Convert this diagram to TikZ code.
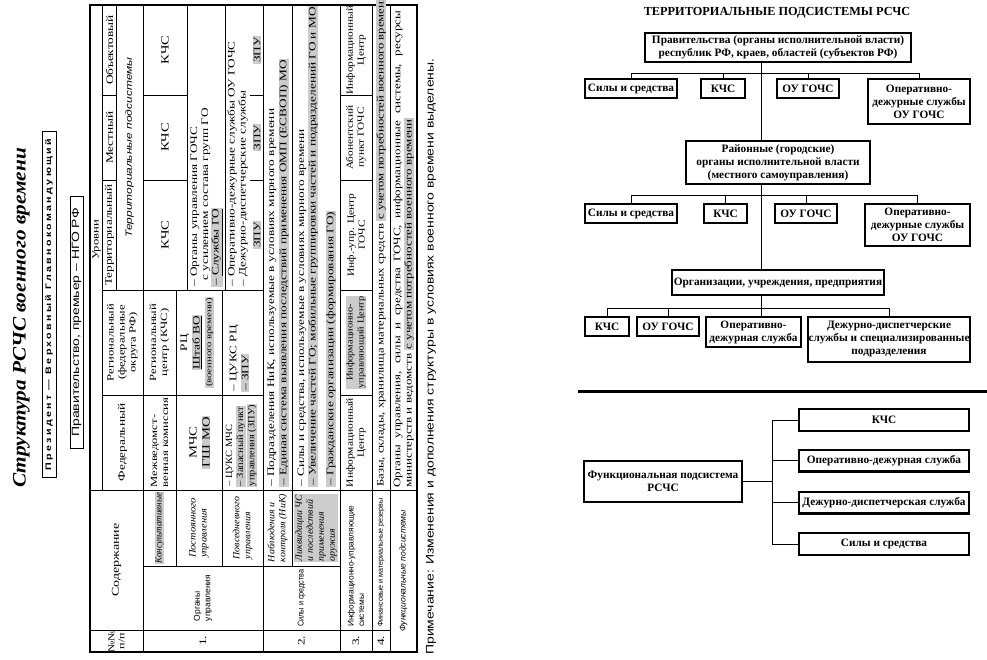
\documentclass[tikz,border=0pt]{standalone}
\usepackage{fontspec}
\setmainfont{Liberation Serif}
\newfontfamily\lsans{Liberation Sans}
\newfontfamily\lsansls[LetterSpace=22]{Liberation Sans}
\newcommand{\hlt}[1]{{\setlength{\fboxsep}{0.6pt}\colorbox{black!20}{#1}}}
\begin{document}
\begin{tikzpicture}[x=1pt,y=-1pt,
  tx/.style={rotate=90, xscale=#1, inner sep=0pt, font=\fontsize{10}{11.5}\selectfont, align=left},
  tx/.default=1.33,
  txc/.style={tx=#1, align=center},
  txc/.default=1.33,
  hl/.style={fill=black!20, inner sep=0.7pt},
  tline/.style={line width=0.7pt},
  obox/.style={draw, line width=2.4pt, inner sep=0pt, align=center, font=\bfseries\fontsize{11.3}{13}\selectfont},
  conn/.style={line width=0.9pt}
]
\fill[white] (0,0) rectangle (987,660);
\useasboundingbox (0,0) rectangle (987,660);

% ================= LEFT: rotated table =================
\node[rotate=90, xscale=1.12, inner sep=0pt, font=\bfseries\itshape\fontsize{19}{22}\selectfont] (title) at (21.5,318) {Структура РСЧС военного времени};
\node[draw, line width=1pt, rotate=90, minimum width=345, minimum height=14, inner sep=0pt] (pres) at (49,304.5) {\scalebox{1.33}[1]{\lsansls\bfseries\fontsize{8}{9}\selectfont Президент — Верховный Главнокомандующий}};
\node[draw, line width=1pt, rotate=90, minimum width=251, minimum height=13, inner sep=0pt] (prav) at (76.5,322.5) {\scalebox{1.33}[1]{\lsans\fontsize{10.5}{11}\selectfont Правительство, премьер – НГО РФ}};

% table grid
\draw[line width=1.1pt] (90,5) rectangle (417,652);
\draw[tline] (102,5) -- (102,490);
\draw[tline] (116,5) -- (116,290);
\draw[tline] (143,5) -- (143,652);
\draw[tline] (176,290) -- (176,566);
\draw[tline] (187,5) -- (187,290);
\draw[tline] (222,290) -- (222,566);
\draw[tline] (225,5) -- (225,290);
\draw[tline] (263,5) -- (263,652);
\draw[tline] (292,5) -- (292,566);
\draw[tline] (340,5) -- (340,652);
\draw[tline] (372,5) -- (372,652);
\draw[tline] (390,5) -- (390,652);
\draw[tline] (90,630) -- (390,630);
\draw[tline] (143,566) -- (340,566);
\draw[tline] (90,490) -- (417,490);
\draw[tline] (102,395) -- (263,395);
\draw[tline] (340,395) -- (372,395);
\draw[tline] (102,290) -- (263,290);
\draw[tline] (340,290) -- (372,290);
\foreach \yy in {180,95} {
  \draw[tline] (102,\yy) -- (116,\yy);
  \draw[tline] (143,\yy) -- (187,\yy);
  \draw[tline] (250,\yy) -- (263,\yy);
  \draw[tline] (340,\yy) -- (372,\yy);
}

% header
\node[txc, font=\fontsize{9}{10}\selectfont] (hnn) at (116.5,641) {№№\\п/п};
\node[txc, font=\fontsize{10.5}{12}\selectfont] (hsod) at (116.5,560) {Содержание};
\node[txc, font=\fontsize{9.5}{11}\selectfont] (hur) at (96.5,240) {Уровни};
\node[txc] (hfed) at (122.5,442.5) {Федеральный};
\node[txc, font=\fontsize{9.5}{11}\selectfont] (hreg) at (122.5,342.5) {Региональный\\(федеральные\\округа РФ)};
\node[txc] (hter) at (109.5,235) {Территориальный};
\node[txc] (hmes) at (109.5,137.5) {Местный};
\node[txc] (hobj) at (109.5,50) {Объектовый};
\node[txc, font=\lsans\itshape\fontsize{9}{10}\selectfont] (htps) at (129.5,147.5) {Территориальные подсистемы};

% row 1
\node[txc=0.95, hl, font=\itshape\fontsize{9.5}{11}\selectfont] (kons) at (159.5,528) {Консультативные};
\node[tx, font=\fontsize{9.5}{11}\selectfont] (mvk) at (159.5,442.5) {Межведомст-\\венная комиссия};
\node[txc, font=\fontsize{9.5}{11}\selectfont] (rck) at (159.5,342.5) {Региональный\\центр (КЧС)};
\node[txc, font=\fontsize{11}{12}\selectfont] (k1) at (165,235) {КЧС};
\node[txc, font=\fontsize{11}{12}\selectfont] (k2) at (165,137.5) {КЧС};
\node[txc, font=\fontsize{11}{12}\selectfont] (k3) at (165,50) {КЧС};

% row 2
\node[tx=1.1, font=\itshape\fontsize{9.5}{11}\selectfont] (post) at (199,528) {Постоянного\\управления};
\node[txc, font=\fontsize{11}{12}\selectfont] (mchs) at (193,442.5) {МЧС};
\node[txc, hl, font=\fontsize{11}{12}\selectfont] (gsh) at (206,442.5) {ГШ МО};
\node[txc, font=\fontsize{10}{11}\selectfont] (rc) at (185,342.5) {РЦ};
\node[txc, hl, font=\fontsize{10}{11}\selectfont] (shvo) at (197,342.5) {\underline{Штаб ВО}};
\node[txc, hl, font=\fontsize{8}{9}\selectfont] (vv) at (209.5,342.5) {(военного времени)};
\node[tx, anchor=west] (ou1) at (195,287) {– Органы управления ГОЧС};
\node[tx, anchor=west] (ou2) at (206,281) {с усилением состава групп ГО};
\node[tx, anchor=west, hl] (ou3) at (217,287) {– \underline{Службы ГО}};

% row 3
\node[tx=1.05, font=\itshape\fontsize{9.5}{11}\selectfont] (povs) at (242.5,528) {Повседневного\\управления};
\node[tx=1.1, anchor=west, font=\fontsize{9.5}{11}\selectfont] (cu1) at (230,487) {– ЦУКС МЧС};
\node[tx=1.1, anchor=west, hl, font=\fontsize{9.5}{11}\selectfont] (cu2) at (241,487) {– Запасный пункт};
\node[tx=1.1, anchor=west, hl, font=\fontsize{9.5}{11}\selectfont] (cu3) at (252,487) {управления (ЗПУ)};
\node[tx, anchor=west] (cr1) at (234,392) {– ЦУКС РЦ};
\node[tx, anchor=west, hl] (cr2) at (245,392) {– ЗПУ};
\node[tx, anchor=west] (od1) at (232,287) {– Оперативно-дежурные службы ОУ ГОЧС};
\node[tx, anchor=west] (od2) at (243,287) {– Дежурно-диспетчерские службы};
\node[txc, hl] (z1) at (257,235) {ЗПУ};
\node[txc, hl] (z2) at (257,137.5) {ЗПУ};
\node[txc, hl] (z3) at (257,50) {ЗПУ};

% row 4
\node[tx=1.05, font=\itshape\fontsize{9.5}{11}\selectfont] (nik) at (277.5,528) {Наблюдения и\\контроля (НиК)};
\node[tx, anchor=west] (n1) at (272,487) {– Подразделения НиК, используемые в условиях мирного времени};
\node[tx, anchor=west, hl] (n2) at (284,487) {– Единая система выявления последствий применения ОМП (ЕСВОП) МО};

% row 5
\node[tx=1.05, hl, font=\itshape\fontsize{9.5}{11}\selectfont] (likv) at (316,528) {Ликвидации ЧС\\и последствий\\применения\\оружия};
\node[tx, anchor=west] (l1) at (302,487) {– Силы и средства, используемые в условиях мирного времени};
\node[tx, anchor=west, hl] (l2) at (313,487) {– Увеличение частей ГО; мобильные группировки частей и подразделений ГО и МО};
\node[tx, anchor=west, hl] (l3) at (331,487) {– Гражданские организации (формирования ГО)};

% numbers and groups
\node[txc, font=\fontsize{10}{11}\selectfont] (no1) at (203,641) {1.};
\node[txc, font=\fontsize{10}{11}\selectfont] (no2) at (301.5,641) {2.};
\node[txc, font=\fontsize{10}{11}\selectfont] (no3) at (356,641) {3.};
\node[txc, font=\fontsize{10}{11}\selectfont] (no4) at (381,641) {4.};
\node[tx=1.0, font=\lsans\fontsize{8.5}{10.5}\selectfont] (c1a) at (203,598) {Органы\\управления};
\node[tx=0.85, font=\lsans\fontsize{8.5}{10.5}\selectfont] (c1b) at (301.5,598) {Силы и средства};

% row 6
\node[tx=1.0, anchor=west, font=\lsans\fontsize{8.3}{10.5}\selectfont] (c3) at (356,627) {Информационно-управляющие\\системы};
\node[txc=1.2, font=\fontsize{9.5}{11}\selectfont] (i1) at (356,442.5) {Информационный\\Центр};
\node[txc=1.15, hl, font=\fontsize{9}{11}\selectfont] (i2) at (356,342.5) {Информационно-\\управляющий Центр};
\node[txc=1.2, font=\fontsize{9.5}{11}\selectfont] (i3) at (356,235) {Инф.-упр. Центр\\ГОЧС};
\node[txc=1.2, font=\fontsize{9.5}{11}\selectfont] (i4) at (356,137.5) {Абонентский\\пункт ГОЧС};
\node[txc=1.2, font=\fontsize{9.5}{11}\selectfont] (i5) at (356,50) {Информационный\\Центр};

% row 7
\node[tx=0.95, anchor=west, font=\lsans\fontsize{7.5}{9}\selectfont] (c4) at (381,627) {Финансовые и материальные резервы};
\node[tx=1.27, anchor=west] (b1) at (381,487) {Базы, склады, хранилища материальных средств \hlt{с учетом потребностей военного времени}};

% row 8
\node[txc=1.0, font=\lsans\itshape\fontsize{8.5}{10}\selectfont] (fps) at (403.5,571) {Функциональные подсистемы};
\node[tx=1.3, anchor=west] (fp1) at (398,488) {\makebox[367pt][s]{Органы управления, силы и средства ГОЧС, информационные системы, ресурсы}};
\node[tx=1.3, anchor=west] (fp2) at (409,488) {министерств и ведомств \hlt{с учетом потребностей военного времени}};

% footnote
\node[tx=1.27, anchor=west, font=\lsans\fontsize{11}{13}\selectfont] (note) at (431,655) {Примечание: Изменения и дополнения структуры в условиях военного времени выделены.};

% ================= RIGHT: territorial subsystems =================
\node[inner sep=0pt, font=\bfseries\fontsize{12.3}{14}\selectfont] (ttl) at (777,13) {ТЕРРИТОРИАЛЬНЫЕ ПОДСИСТЕМЫ РСЧС};
\node[obox, minimum width=265.6, minimum height=28.6] (gov) at (778,47.5) {Правительства (органы исполнительной власти)\\республик РФ, краев, областей (субъектов РФ)};
\node[obox, minimum width=91.6, minimum height=18.6] (r1a) at (631,88.5) {Силы и средства};
\node[obox, minimum width=43.6, minimum height=18.6] (r1b) at (723,88.5) {КЧС};
\node[obox, minimum width=61.6, minimum height=18.6] (r1c) at (808,88.5) {ОУ ГОЧС};
\node[obox, minimum width=101.6, minimum height=44.6] (r1d) at (919,101.5) {Оперативно-\\дежурные службы\\ОУ ГОЧС};
\node[obox, minimum width=183.6, minimum height=42.6] (rai) at (778,162.5) {Районные (городские)\\органы исполнительной власти\\(местного самоуправления)};
\node[obox, minimum width=91.6, minimum height=18.6] (r2a) at (631,213.5) {Силы и средства};
\node[obox, minimum width=42.6, minimum height=18.6] (r2b) at (725.5,213.5) {КЧС};
\node[obox, minimum width=61.6, minimum height=18.6] (r2c) at (806,213.5) {ОУ ГОЧС};
\node[obox, minimum width=104.6, minimum height=41.6] (r2d) at (917.5,225) {Оперативно-\\дежурные службы\\ОУ ГОЧС};
\node[obox, minimum width=211.6, minimum height=24.6] (org) at (778,282.5) {Организации, учреждения, предприятия};
\node[obox, minimum width=43.6, minimum height=18.6] (r3a) at (607,326.5) {КЧС};
\node[obox, minimum width=61.6, minimum height=18.6] (r3b) at (668,326.5) {ОУ ГОЧС};
\node[obox, minimum width=94.6, minimum height=29.6] (r3c) at (753.5,332) {Оперативно-\\дежурная служба};
\node[obox, minimum width=161.6, minimum height=44.6] (r3d) at (889,339.5) {Дежурно-диспетчерские\\службы и специализированные\\подразделения};

\coordinate (tr1) at (761,73);
\coordinate (tr2) at (761,195);
\coordinate (tr3) at (761,308);
\draw[conn] (gov.south -| tr1) -- (rai.north -| tr1);
\draw[conn] (r1a.north) |- (r1d.north |- tr1) -- (r1d.north);
\draw[conn] (r1b.north) -- (r1b.north |- tr1);
\draw[conn] (r1c.north) -- (r1c.north |- tr1);
\draw[conn] (rai.south -| tr2) -- (org.north -| tr2);
\draw[conn] (r2a.north) |- (r2d.north |- tr2) -- (r2d.north);
\draw[conn] (r2b.north) -- (r2b.north |- tr2);
\draw[conn] (r2c.north) -- (r2c.north |- tr2);
\draw[conn] (org.south -| tr3) -- (r3c.north -| tr3);
\draw[conn] (r3a.north) |- (r3d.north |- tr3) -- (r3d.north);
\draw[conn] (r3b.north) -- (r3b.north |- tr3);

% divider
\coordinate (dvl) at (578,391);
\coordinate (dvr) at (987,391);
\draw[line width=3pt] (dvl) -- (dvr);

% functional subsystem
\node[obox, minimum width=157.6, minimum height=40.6] (func) at (663,481.5) {Функциональная подсистема\\РСЧС};
\node[obox, minimum width=169.6, minimum height=21.6] (f1) at (884,420) {КЧС};
\node[obox, minimum width=169.6, minimum height=21.6] (f2) at (884,460.5) {Оперативно-дежурная служба};
\node[obox, minimum width=169.6, minimum height=21.6] (f3) at (884,502.5) {Дежурно-диспетчерская служба};
\node[obox, minimum width=169.6, minimum height=21.6] (f4) at (884,544) {Силы и средства};
\coordinate (fj) at (772,480);
\draw[conn] (func.east) -- (func.east -| fj);
\draw[conn] (f1.west) -- (f1.west -| fj) -- (f4.west -| fj) -- (f4.west);
\draw[conn] (f2.west) -- (f2.west -| fj);
\draw[conn] (f3.west) -- (f3.west -| fj);
\end{tikzpicture}
\end{document}
